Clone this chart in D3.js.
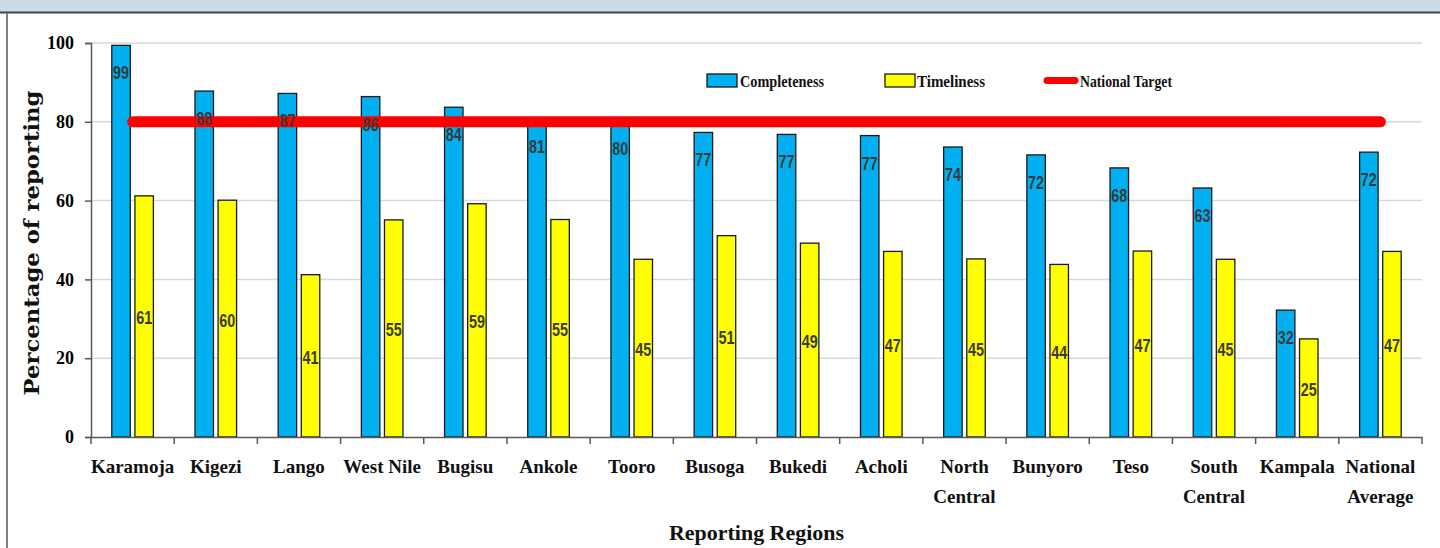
<!DOCTYPE html>
<html>
<head>
<meta charset="utf-8">
<script src="https://cdn.jsdelivr.net/npm/d3@7"></script>
<style>
  html, body { margin: 0; padding: 0; background: #ffffff; }
  svg { display: block; }
</style>
</head>
<body>
<svg id="chart" width="1440" height="548"></svg>
<script>
// ---- data ----
const categories = ["Karamoja","Kigezi","Lango","West Nile","Bugisu","Ankole","Tooro","Busoga","Bukedi","Acholi","North Central","Bunyoro","Teso","South Central","Kampala","National Average"];
const categoryLabels = [["Karamoja"],["Kigezi"],["Lango"],["West Nile"],["Bugisu"],["Ankole"],["Tooro"],["Busoga"],["Bukedi"],["Acholi"],["North","Central"],["Bunyoro"],["Teso"],["South","Central"],["Kampala"],["National","Average"]];
const completeness = [99.4, 87.8, 87.2, 86.4, 83.7, 80.8, 80.2, 77.3, 76.8, 76.5, 73.6, 71.6, 68.3, 63.2, 32.2, 72.3];
const timeliness   = [61.2, 60.1, 41.2, 55.1, 59.2, 55.2, 45.1, 51.1, 49.2, 47.1, 45.2, 43.8, 47.2, 45.1, 24.9, 47.1];
const nationalTarget = 80;
const yTicks = [0, 20, 40, 60, 80, 100];
const seriesNames = ["Completeness", "Timeliness", "National Target"];
const axisTitleX = "Reporting Regions";
const axisTitleY = "Percentage of reporting";

// ---- layout ----
const svg = d3.select("#chart");
const W = 1440, H = 548;
const plot = { left: 91, right: 1422, top: 43, bottom: 437 };
const colors = { comp: "#00b0f0", time: "#ffff00", target: "#ff0000" };
const serif = "'Liberation Serif', 'Times New Roman', serif";
const sans = "'Liberation Sans', Arial, sans-serif";

// frame
svg.append("rect").attr("x", 0).attr("y", 0).attr("width", W).attr("height", 12).attr("fill", "#cddbe9");
svg.append("line").attr("x1", 0).attr("x2", W).attr("y1", 12.5).attr("y2", 12.5).attr("stroke", "#3f4448").attr("stroke-width", 2);
svg.append("line").attr("x1", 7).attr("x2", 7).attr("y1", 13).attr("y2", H).attr("stroke", "#808080").attr("stroke-width", 2);

const x = d3.scaleBand().domain(categories).range([plot.left, plot.right]).paddingInner(0).paddingOuter(0);
const bw = x.bandwidth();
const xs = d3.scaleBand().domain(["comp", "time"]).range([bw * 0.25, bw * 0.75]).paddingInner(0.2);
const y = d3.scaleLinear().domain([0, 100]).range([plot.bottom, plot.top]);

// gridlines
svg.append("g").selectAll("line").data(yTicks.filter(d => d > 0)).join("line")
  .attr("x1", plot.left).attr("x2", plot.right)
  .attr("y1", d => y(d)).attr("y2", d => y(d))
  .attr("stroke", "#d9d9d9").attr("stroke-width", 1.5);

// y axis
const yAxis = svg.append("g").attr("transform", `translate(${plot.left},0)`)
  .call(d3.axisLeft(y).tickValues(yTicks).tickSize(6).tickPadding(11).tickFormat(d3.format("d")));
yAxis.select(".domain").attr("stroke", "#595959").attr("stroke-width", 1.5);
yAxis.selectAll(".tick line").attr("stroke", "#595959").attr("stroke-width", 1.5);
yAxis.selectAll(".tick text").attr("font-family", serif).attr("font-weight", "bold")
  .attr("font-size", 18).attr("fill", "#000");

// bars
const rows = categories.map((c, i) => ({ c, comp: completeness[i], time: timeliness[i], labels: categoryLabels[i] }));

const gBars = svg.append("g");
gBars.selectAll("rect.comp").data(rows).join("rect").attr("class", "comp")
  .attr("x", d => x(d.c) + xs("comp")).attr("width", xs.bandwidth())
  .attr("y", d => y(d.comp)).attr("height", d => y(0) - y(d.comp))
  .attr("fill", colors.comp).attr("stroke", "#1a1a1a").attr("stroke-width", 1.3);
gBars.selectAll("rect.time").data(rows).join("rect").attr("class", "time")
  .attr("x", d => x(d.c) + xs("time")).attr("width", xs.bandwidth())
  .attr("y", d => y(d.time)).attr("height", d => y(0) - y(d.time))
  .attr("fill", colors.time).attr("stroke", "#1a1a1a").attr("stroke-width", 1.3);

// national target line
const line = d3.line().x(d => x(d.c) + bw / 2).y(() => y(nationalTarget));
svg.append("path").datum(rows).attr("d", line)
  .attr("fill", "none").attr("stroke", colors.target).attr("stroke-width", 11).attr("stroke-linecap", "round");

// x axis
const xAxis = svg.append("g").attr("transform", `translate(0,${plot.bottom})`)
  .call(d3.axisBottom(x).tickSize(0).tickFormat(""));
xAxis.select(".domain").attr("stroke", "#595959").attr("stroke-width", 1.5);
const bounds = categories.map(c => x(c)).concat([x(categories[categories.length - 1]) + bw]);
svg.append("g").selectAll("line").data(bounds).join("line")
  .attr("x1", d => d).attr("x2", d => d).attr("y1", plot.bottom).attr("y2", plot.bottom + 7)
  .attr("stroke", "#595959").attr("stroke-width", 1.5);

// category labels
const fmt = d3.format(".0f");
const gLab = svg.append("g");
rows.forEach(d => {
  const t = gLab.append("text").attr("x", x(d.c) + bw / 2).attr("y", 473)
    .attr("text-anchor", "middle").attr("font-family", serif).attr("font-weight", "bold")
    .attr("font-size", 19).attr("fill", "#111");
  d.labels.forEach((l, j) => t.append("tspan").attr("x", x(d.c) + bw / 2).attr("dy", j === 0 ? 0 : 30).text(l));
});

// value labels (narrow look)
const gVal = svg.append("g").attr("font-family", sans).attr("font-size", 19).attr("fill", "#3a3a3a")
  .attr("text-anchor", "middle").attr("font-weight", "bold");
gVal.selectAll("text.comp").data(rows).join("text").attr("class", "comp")
  .attr("x", d => x(d.c) + xs("comp") + xs.bandwidth() / 2)
  .attr("y", d => y(d.comp) + 34)
  .attr("textLength", 16).attr("lengthAdjust", "spacingAndGlyphs")
  .text(d => fmt(d.comp));
gVal.selectAll("text.time").data(rows).join("text").attr("class", "time")
  .attr("x", d => x(d.c) + xs("time") + xs.bandwidth() / 2)
  .attr("y", d => (y(d.time) + y(0)) / 2 + 8)
  .attr("textLength", 16).attr("lengthAdjust", "spacingAndGlyphs")
  .text(d => fmt(d.time));

// legend
const leg = svg.append("g").attr("font-family", serif).attr("font-weight", "bold").attr("font-size", 17).attr("fill", "#111");
leg.append("rect").attr("x", 707).attr("y", 74).attr("width", 30).attr("height", 13).attr("fill", colors.comp).attr("stroke", "#1a1a1a").attr("stroke-width", 1.3);
leg.append("text").attr("x", 740).attr("y", 87).attr("textLength", 84).attr("lengthAdjust", "spacingAndGlyphs").text(seriesNames[0]);
leg.append("rect").attr("x", 885).attr("y", 74).attr("width", 30).attr("height", 13).attr("fill", colors.time).attr("stroke", "#1a1a1a").attr("stroke-width", 1.3);
leg.append("text").attr("x", 917).attr("y", 87).attr("textLength", 68).attr("lengthAdjust", "spacingAndGlyphs").text(seriesNames[1]);
leg.append("line").attr("x1", 1047).attr("x2", 1075).attr("y1", 80.5).attr("y2", 80.5)
  .attr("stroke", colors.target).attr("stroke-width", 7).attr("stroke-linecap", "round");
leg.append("text").attr("x", 1080).attr("y", 87).attr("textLength", 92).attr("lengthAdjust", "spacingAndGlyphs").text(seriesNames[2]);

// axis titles
svg.append("text").attr("x", (plot.left + plot.right) / 2).attr("y", 540).attr("text-anchor", "middle")
  .attr("font-family", serif).attr("font-weight", "bold").attr("font-size", 21).attr("fill", "#111")
  .attr("textLength", 175).attr("lengthAdjust", "spacingAndGlyphs").text(axisTitleX);
svg.append("text").attr("transform", "translate(39,243) rotate(-90)").attr("text-anchor", "middle")
  .attr("font-family", "'DejaVu Serif', serif").attr("font-weight", "bold").attr("font-size", 21)
  .attr("textLength", 305).attr("lengthAdjust", "spacingAndGlyphs")
  .attr("fill", "#111").text(axisTitleY);
</script>
</body>
</html>
